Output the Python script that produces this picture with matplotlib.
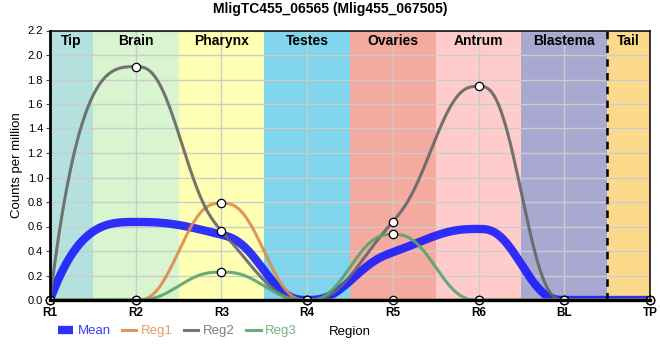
import numpy as np
import matplotlib
matplotlib.use("Agg")
import matplotlib.pyplot as plt

plt.rcParams['font.family'] = ['Liberation Sans', 'DejaVu Sans']

# x axis positions and labels
tick_labels = ["R1", "R2", "R3", "R4", "R5", "R6", "BL", "TP"]
xpos = list(range(len(tick_labels)))

# series values (counts per million)
mean_vals = [0.0, 0.637, 0.533, 0.0, 0.39, 0.58, 0.0, 0.0]
reg1_vals = [0.0, 0.0, 0.79, 0.0, 0.0, 0.0, 0.0, 0.0]
reg2_vals = [0.0, 1.905, 0.565, 0.0, 0.64, 1.745, 0.0, 0.0]
reg3_vals = [0.0, 0.0, 0.228, 0.0, 0.535, 0.0, 0.0, 0.0]

# anatomical regions in the background
region_names = ["Tip", "Brain", "Pharynx", "Testes", "Ovaries", "Antrum", "Blastema", "Tail"]
region_edges = [0, 0.5, 1.5, 2.5, 3.5, 4.5, 5.5, 6.5, 7]
region_colors = ["#b4e1de", "#d9f5d0", "#ffffb4", "#80d4eb",
                 "#f5aaa0", "#ffcccc", "#a8a8d0", "#fdd98c"]


def smooth(xs, ys, n=60):
    # monotone hermite through the points (Fritsch-Carlson slopes),
    # quintic blend inside, cubic with steep start on the end segments
    x = np.asarray(xs, float)
    y = np.asarray(ys, float)
    h = np.diff(x)
    delta = np.diff(y) / h
    d = np.zeros_like(y)
    for i in range(1, len(y) - 1):
        if delta[i - 1] * delta[i] > 0:
            w1 = 2 * h[i] + h[i - 1]
            w2 = h[i] + 2 * h[i - 1]
            d[i] = (w1 + w2) / (w1 / delta[i - 1] + w2 / delta[i])
    d[0] = 3 * delta[0]
    d[-1] = 3 * delta[-1]
    xo, yo = [], []
    t = np.linspace(0, 1, n)
    last = len(x) - 2
    for i in range(len(x) - 1):
        if i == 0 or i == last:
            a0 = 2 * t ** 3 - 3 * t ** 2 + 1
            a1 = t ** 3 - 2 * t ** 2 + t
            b0 = -2 * t ** 3 + 3 * t ** 2
            b1 = t ** 3 - t ** 2
        else:
            a0 = 1 - 10 * t ** 3 + 15 * t ** 4 - 6 * t ** 5
            a1 = t - 6 * t ** 3 + 8 * t ** 4 - 3 * t ** 5
            b0 = 10 * t ** 3 - 15 * t ** 4 + 6 * t ** 5
            b1 = -4 * t ** 3 + 7 * t ** 4 - 3 * t ** 5
        xo.append(x[i] + t * h[i])
        yo.append(a0 * y[i] + a1 * h[i] * d[i] + b0 * y[i + 1] + b1 * h[i] * d[i + 1])
    return np.concatenate(xo), np.concatenate(yo)


W, H = 660, 360
fig = plt.figure(figsize=(W / 100, H / 100), dpi=100)
ax = fig.add_axes([50 / W, 60 / H, 600 / W, 269.5 / H])
ax.set_xlim(0, 7)
ax.set_ylim(0, 2.2)

# background bands + labels
for name, x0, x1, col in zip(region_names, region_edges[:-1], region_edges[1:], region_colors):
    ax.axvspan(x0, x1, color=col, lw=0, zorder=0.2)
    ax.text((x0 + x1) / 2, 0.96, name, transform=ax.get_xaxis_transform(),
            ha='center', va='center', fontsize=10, fontweight='bold', zorder=3)
ax.axvline(6.5, color='black', ls=(0, (3, 2.5)), lw=1.8, zorder=2.6)

ax.set_axisbelow(True)
ax.grid(True, color='#cccccc', lw=1.0)
yt = np.arange(0, 2.21, 0.2)
ax.set_yticks(yt)
ax.set_yticklabels([f"{v:.1f}" for v in yt], fontsize=8)
ax.set_xticks(xpos)
ax.set_xticklabels(tick_labels, fontsize=8.5, fontweight='bold')
ax.tick_params(axis='x', length=0, pad=5)
ax.tick_params(axis='y', length=3, width=0.8, color='#444444', pad=2)

for side, lw in [('left', 2.0), ('bottom', 2.4), ('top', 1.1), ('right', 1.1)]:
    ax.spines[side].set_linewidth(lw)
    ax.spines[side].set_color('black')

# traces
mx, my = smooth(xpos, mean_vals)
ax.plot(mx, my, color='#1a1aff', lw=6, alpha=0.9, solid_capstyle='butt',
        label='Mean', zorder=2)

series = [("Reg1", reg1_vals, '#e08a4c'), ("Reg2", reg2_vals, '#666666'),
          ("Reg3", reg3_vals, '#5aa469')]
for lab, vals, col in series:
    sxv, syv = smooth(xpos, vals)
    ax.plot(sxv, syv, color=col, lw=2.2, alpha=0.9, label=lab, zorder=2)
    ax.plot(xpos, vals, ls='none', marker='o', ms=6, mfc='white', mec='black',
            mew=0.9, clip_on=False, zorder=2.2)

ax.set_ylabel("Counts per million", fontsize=9.5, labelpad=3)
ax.set_xlabel("Region", fontsize=9.5, labelpad=5)
fig.suptitle("MligTC455_06565 (Mlig455_067505)", fontsize=10, fontweight='bold',
             y=1 - 9 / H, va='center')

leg = fig.legend(loc='center left', bbox_to_anchor=(53 / W, 1 - 331 / H), ncol=4,
                 frameon=False, fontsize=9.5, handlelength=1.1, handletextpad=0.35,
                 columnspacing=0.85, labelcolor='linecolor', borderaxespad=0)
for txt in leg.get_texts():
    txt.set_alpha(0.85)

fig.savefig("out.png", dpi=100)
